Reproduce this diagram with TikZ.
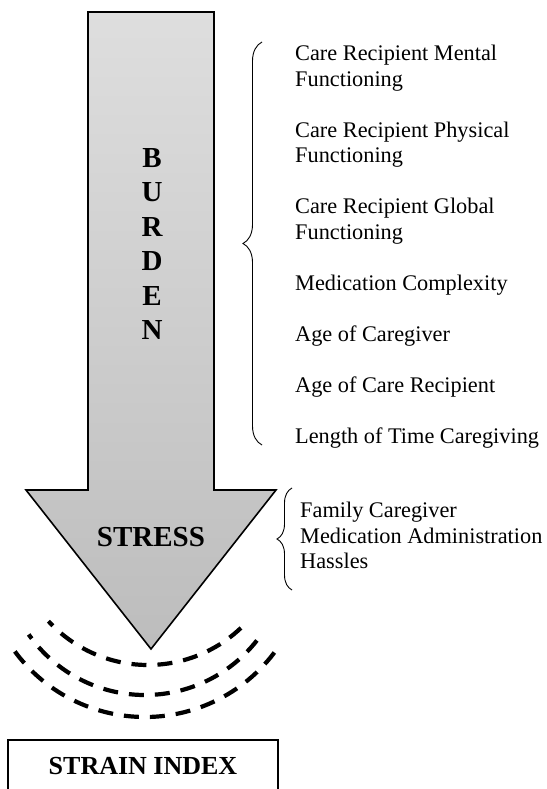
\documentclass[tikz,border=0pt]{standalone}
\usepackage{fontspec}
\setmainfont{Liberation Serif}
\usetikzlibrary{decorations.pathreplacing}

\begin{document}
\begin{tikzpicture}[x=1pt,y=-1pt,
  factor/.style={anchor=north west,align=left,inner sep=0pt,font=\fontsize{22.3}{25.5}\selectfont},
  bigword/.style={inner sep=0pt,font=\fontsize{29}{34.4}\selectfont\bfseries},
  curly/.style={decorate,decoration={brace,amplitude=#1},line width=0.9pt},
  ripple/.style={line width=4.2pt,dash pattern=on 15pt off 11pt}]
\useasboundingbox (0,0) rectangle (546,789);

\draw[line width=1.6pt,top color=black!13,bottom color=black!26] (88,12) -- (214,12) -- (214,490) -- (276,490) -- (151,649) -- (26,490) -- (88,490) -- cycle;

\node[bigword,align=center] (burden) at (152,244) {B\\U\\R\\D\\E\\N};
\node[bigword] (stress) at (151,537) {STRESS};

\draw[ripple] (148,530) ++(46.5:135) arc[start angle=46.5,end angle=137.5,radius=135];
\draw[ripple] (145,553) ++(38:142) arc[start angle=38,end angle=145,radius=142];
\draw[ripple] (145,555) ++(37:162) arc[start angle=37,end angle=145,radius=162];

\node[draw,line width=1.2pt,minimum width=270pt,minimum height=52pt,inner sep=0pt,font=\fontsize{26}{30}\selectfont\bfseries] (strain) at (143,766) {STRAIN INDEX};

\node[factor] (burdenlist) at (295,45) {Care Recipient Mental\\Functioning\\[25.5pt]Care Recipient Physical\\Functioning\\[25.5pt]Care Recipient Global\\Functioning\\[25.5pt]Medication Complexity\\[25.5pt]Age of Caregiver\\[25.5pt]Age of Care Recipient\\[25.5pt]Length of Time Caregiving};
\draw[curly=19pt] (262,445) -- (262,42);

\node[factor] (stresslist) at (300,502) {Family Caregiver\\Medication Administration\\Hassles};
\draw[curly=15pt] (292,590) -- (292,488);

\end{tikzpicture}
\end{document}
